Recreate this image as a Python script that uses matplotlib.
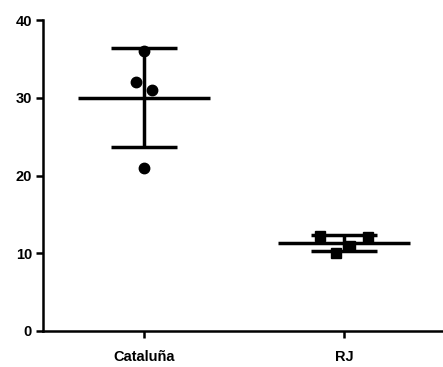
import numpy as np
import matplotlib
matplotlib.use('Agg')
import matplotlib.pyplot as plt

plt.rcParams['font.family'] = ['Liberation Sans', 'DejaVu Sans']

# datos
categories = ['Cataluña', 'RJ']
cataluna_vals = [36, 32, 31, 21]
cataluna_jit = [0.0, -0.04, 0.04, 0.0]
rj_vals = [12.2, 12.1, 10.0, 10.9]
rj_jit = [-0.12, 0.12, -0.04, 0.03]
yticks = [0, 10, 20, 30, 40]

fig = plt.figure(figsize=(4.43, 3.67), dpi=100)
ax = fig.add_axes([43 / 443, 36 / 367, 400 / 443, 311 / 367])

groups = [(cataluna_vals, cataluna_jit, 'o'), (rj_vals, rj_jit, 's')]
for i, (vals, jit, mk) in enumerate(groups):
    vals = np.array(vals)
    x = i + np.array(jit)
    ax.plot(x, vals, linestyle='none', marker=mk, color='black',
            markersize=7.5 if mk == 'o' else 6.5, zorder=3)
    m = vals.mean()
    sd = vals.std(ddof=1)
    ax.hlines(m, i - 0.33, i + 0.33, color='black', linewidth=2.5)
    ax.hlines([m - sd, m + sd], i - 0.167, i + 0.167, color='black', linewidth=2.5)
    ax.vlines(i, m - sd, m + sd, color='black', linewidth=2.5)

ax.set_xlim(-0.505, 1.495)
ax.set_ylim(0, 40)
ax.set_xticks([0, 1])
ax.set_xticklabels(categories, fontweight='bold', fontsize=10.5)
ax.set_yticks(yticks)
ax.set_yticklabels([str(t) for t in yticks], fontweight='bold', fontsize=10.5)
ax.tick_params(axis='both', length=5, width=1.8, color='black')
ax.tick_params(axis='x', pad=9)
ax.tick_params(axis='y', pad=3)
for s in ['top', 'right']:
    ax.spines[s].set_visible(False)
for s in ['left', 'bottom']:
    ax.spines[s].set_linewidth(1.8)

plt.savefig('out.png', dpi=100)
